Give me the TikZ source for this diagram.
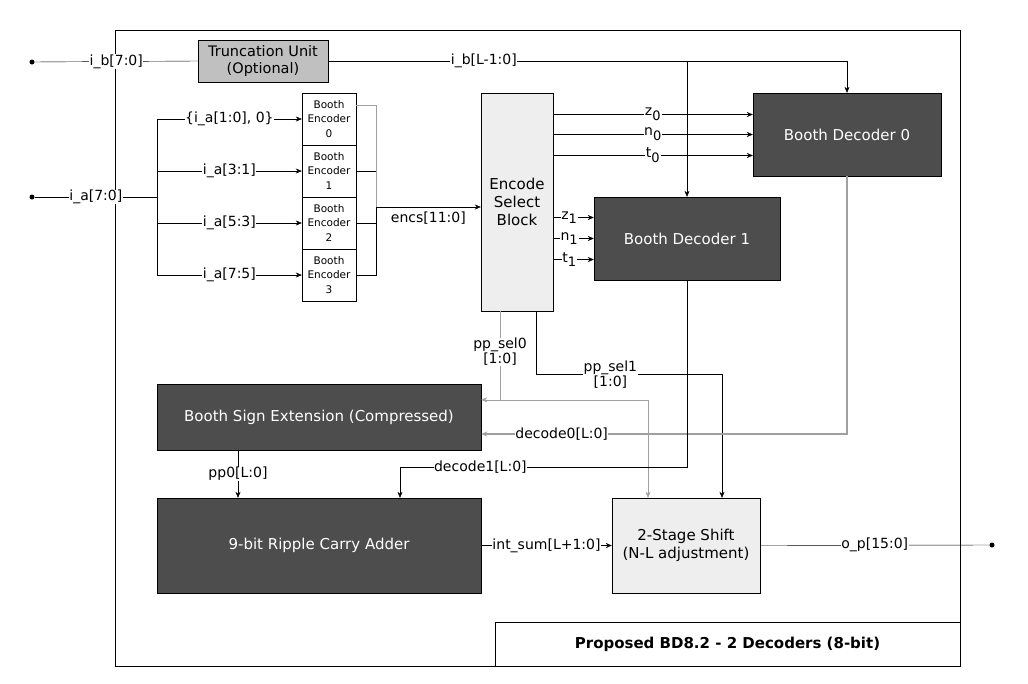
\documentclass[tikz,border=0pt]{standalone}
\usepackage{fontspec}
\setmainfont{DejaVu Sans}
\usetikzlibrary{arrows.meta}
\definecolor{darkblk}{RGB}{77,77,77}
\definecolor{lightblk}{RGB}{238,238,238}
\definecolor{truncgray}{RGB}{192,192,192}
\definecolor{wiregray}{RGB}{160,160,160}
\tikzset{
  arw/.style={-{Stealth[length=6pt,width=5pt]}},
  lbl/.style={fill=white,inner sep=0.5pt,font=\fontsize{14}{15}\selectfont},
  darkbox/.style={draw,fill=darkblk,text=white,font=\fontsize{15}{18}\selectfont,align=center},
  lightbox/.style={draw,fill=lightblk,font=\fontsize{15}{18}\selectfont,align=center},
  encbox/.style={draw,fill=white,minimum width=54pt,minimum height=52pt,align=center,inner sep=0pt,font=\fontsize{10.5}{14.5}\selectfont},
  pin/.style={circle,fill,inner sep=0pt,minimum size=5pt}
}
\begin{document}
\begin{tikzpicture}[x=1pt,y=-1pt]
\useasboundingbox (0,0) rectangle (1028,683);
% frame and title
\draw (115,30) rectangle (960,666);
\node[draw,minimum width=465pt,minimum height=44pt,font=\bfseries\fontsize{15}{18}\selectfont] (title) at (727.5,644) {Proposed BD8.2 - 2 Decoders (8-bit)};

% Blocks
\node[draw,fill=truncgray,minimum width=130pt,minimum height=42pt,align=center,font=\fontsize{14.5}{17}\selectfont,inner sep=1pt] (trunc) at (263,61) {Truncation Unit\\(Optional)};
\node[darkbox,minimum width=188pt,minimum height=83pt] (bd0) at (847,134.5) {Booth Decoder 0};
\node[darkbox,minimum width=186pt,minimum height=83pt] (bd1) at (687,238.5) {Booth Decoder 1};
\node[lightbox,minimum width=72pt,minimum height=218pt] (esb) at (517,202) {Encode\\Select\\Block};
\foreach \k/\y in {0/119,1/171,2/223,3/275}
  \node[encbox] (enc\k) at (329,\y) {Booth\\Encoder\\\k};
\node[darkbox,minimum width=324pt,minimum height=66pt] (bse) at (319,417) {Booth Sign Extension (Compressed)};
\node[darkbox,minimum width=324pt,minimum height=95pt] (rca) at (319,545.5) {9-bit Ripple Carry Adder};
\node[lightbox,minimum width=148pt,minimum height=95pt] (shift) at (686,545.5) {2-Stage Shift\\(N-L adjustment)};

% Pins
\node[pin] (ibin) at (32,62) {};
\node[pin] (iain) at (32,197) {};
\node[pin] (opout) at (992,545) {};
\coordinate (iabus) at (157,197);
\coordinate (encbus) at (376,207);

% i_b path
\draw (ibin) -- node[lbl]{i\_b[7:0]} (trunc.west);
\draw[arw] (trunc.east) -| node[lbl,pos=0.15]{i\_b[L-1:0]} (bd0.north);
\draw[arw] (bd1.north |- trunc.east) -- (bd1.north);

% i_a path
\draw (iain) -- node[lbl]{i\_a[7:0]} (iabus);
\draw (iabus |- enc0) -- (iabus |- enc3);
\draw[arw] (iabus |- enc0) -- node[lbl]{\{i\_a[1:0], 0\}} (enc0.west);
\draw[arw] (iabus |- enc1) -- node[lbl]{i\_a[3:1]} (enc1.west);
\draw[arw] (iabus |- enc2) -- node[lbl]{i\_a[5:3]} (enc2.west);
\draw[arw] (iabus |- enc3) -- node[lbl]{i\_a[7:5]} (enc3.west);

% encoder outputs
\draw[wiregray] ([yshift=14pt]enc0.east) -| (encbus);
\draw (enc1.east) -- (encbus |- enc1.east);
\draw (enc2.east) -- (encbus |- enc2.east);
\draw (enc3.east) -| (encbus);
\draw[arw] (encbus) -- node[below=1pt,font=\fontsize{14}{15}\selectfont]{encs[11:0]} (esb.west |- encbus);

% select signals
\foreach \dy/\s in {20/z,0/n,-21/t}
  \draw[arw] ([yshift=\dy pt]bd0.west -| esb.east) -- node[lbl]{\s\textsubscript{\fontsize{13}{13}\selectfont0}} ([yshift=\dy pt]bd0.west);
\foreach \dy/\s in {21/z,0/n,-21/t}
  \draw[arw] ([yshift=\dy pt]bd1.west -| esb.east) -- node[lbl,pos=0.4]{\s\textsubscript{\fontsize{13}{13}\selectfont1}} ([yshift=\dy pt]bd1.west);

% pp_sel
\coordinate (psel0) at ([xshift=-17pt]esb.south);
\coordinate (psel1) at ([xshift=19pt]esb.south);
\coordinate (bsein1) at ([yshift=-16pt]bse.north east);
\draw[arw,wiregray] (psel0 |- bsein1) -| ([xshift=-38pt]shift.north);
\draw[arw,wiregray] (psel0) |- node[lbl,pos=0.23,align=center,text=black]{pp\_sel0\\{}[1:0]} (bsein1);
\draw[arw] (psel1) -- ++(0,63) -| node[lbl,pos=0.2,align=center]{pp\_sel1\\{}[1:0]} ([xshift=36pt]shift.north);

% decode paths
\draw[arw,wiregray,line width=1.2pt] (bd0.south) |- node[lbl,pos=0.89,text=black]{decode0[L:0]} ([yshift=-17pt]bse.east);
\draw[arw] (bd1.south) -- ++(0,187) -| node[lbl,pos=0.36]{decode1[L:0]} ([xshift=81pt]rca.north);
\draw[arw] ([xshift=-81pt]bse.south) -- node[lbl]{pp0[L:0]} ([xshift=-81pt]rca.north);

% outputs
\draw[arw] (rca.east) -- node[lbl]{int\_sum[L+1:0]} (shift.west);
\draw (shift.east) -- node[lbl]{o\_p[15:0]} (opout);
\end{tikzpicture}
\end{document}
